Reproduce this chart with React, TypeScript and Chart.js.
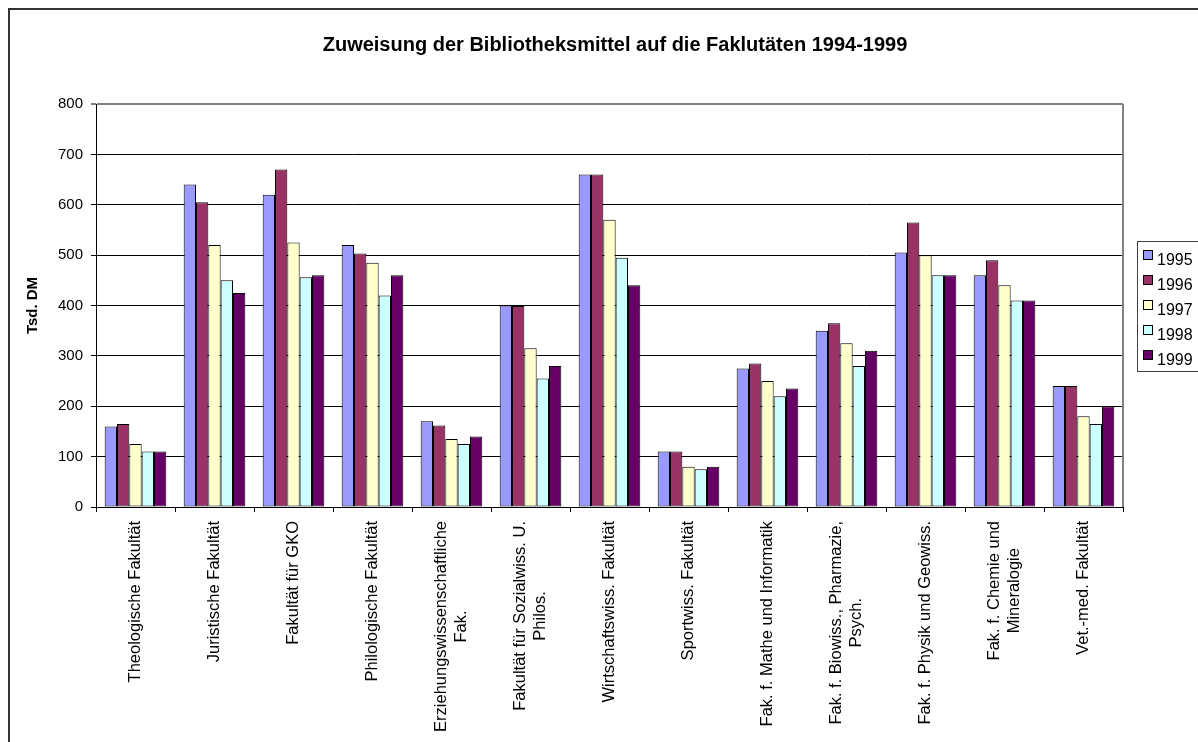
import React, { useEffect, useRef } from "react";
import { Chart, registerables } from "chart.js";

Chart.register(...registerables);

document.documentElement.style.overflow = "hidden";

const TITLE = "Zuweisung der Bibliotheksmittel auf die Faklutäten 1994-1999";
const Y_TITLE = "Tsd. DM";

const categories: (string | string[])[] = [
  "Theologische Fakultät",
  "Juristische Fakultät",
  "Fakultät für GKO",
  "Philologische Fakultät",
  ["Erziehungswissenschaftliche", "Fak."],
  ["Fakultät für Sozialwiss. U.", "Philos."],
  "Wirtschaftswiss. Fakultät",
  "Sportwiss. Fakultät",
  "Fak. f. Mathe und Informatik",
  ["Fak. f. Biowiss., Pharmazie,", "Psych."],
  "Fak. f. Physik und Geowiss.",
  ["Fak. f. Chemie und", "Mineralogie"],
  "Vet.-med. Fakultät",
];

const seriesNames = ["1995", "1996", "1997", "1998", "1999"];
const v1995 = [160, 640, 620, 520, 170, 400, 660, 110, 275, 350, 505, 460, 240];
const v1996 = [165, 605, 670, 503, 162, 399, 660, 110, 285, 365, 565, 490, 240];
const v1997 = [125, 520, 525, 485, 135, 315, 570, 80, 250, 325, 500, 440, 180];
const v1998 = [110, 450, 456, 420, 125, 255, 495, 75, 220, 280, 460, 410, 165];
const v1999 = [110, 425, 460, 460, 140, 280, 440, 80, 235, 310, 460, 410, 200];
const seriesColors = ["#9999FF", "#993366", "#FFFFCC", "#CCFFFF", "#660066"];

const yMin = 0;
const yMax = 800;
const yStep = 100;

const FONT = '"Liberation Sans", Arial, Helvetica, sans-serif';

const titlePlugin = {
  id: "customTitle",
  afterDraw(chart: any) {
    const ctx = chart.ctx;
    ctx.save();
    ctx.font = `bold 20px ${FONT}`;
    ctx.fillStyle = "#000";
    ctx.textAlign = "center";
    ctx.textBaseline = "middle";
    ctx.fillText(TITLE, 605, 35);
    ctx.restore();
  },
};

const frameBorderPlugin = {
  id: "frameBorder",
  beforeDatasetsDraw(chart: any) {
    const { ctx, chartArea } = chart;
    ctx.save();
    ctx.strokeStyle = "#808080";
    ctx.lineWidth = 2;
    ctx.beginPath();
    ctx.moveTo(chartArea.right, chartArea.top);
    ctx.lineTo(chartArea.right, chartArea.bottom);
    ctx.stroke();
    ctx.restore();
  },
};

const xLabelPlugin = {
  id: "xLabels",
  afterDraw(chart: any) {
    const ctx = chart.ctx;
    const xs = chart.scales.x;
    const labels = chart.data.labels as (string | string[])[];
    ctx.save();
    ctx.font = `16.5px ${FONT}`;
    ctx.fillStyle = "#000";
    ctx.textAlign = "center";
    ctx.textBaseline = "middle";
    const top = chart.chartArea.bottom + 14;
    labels.forEach((lab, i) => {
      const lines = Array.isArray(lab) ? lab : [lab];
      const maxW = Math.max(...lines.map((l) => ctx.measureText(l).width));
      const px = xs.getPixelForValue(i);
      ctx.save();
      ctx.translate(px, top);
      ctx.rotate(-Math.PI / 2);
      lines.forEach((l, j) => {
        ctx.fillText(l, -maxW / 2, (j - (lines.length - 1) / 2) * 20);
      });
      ctx.restore();
    });
    ctx.restore();
  },
};

const legendPlugin = {
  id: "customLegend",
  afterDraw(chart: any) {
    const ctx = chart.ctx;
    const ds = chart.data.datasets;
    const boxX = 1127;
    const boxY = 231;
    const boxH = 130;
    ctx.save();
    ctx.strokeStyle = "#404040";
    ctx.lineWidth = 1;
    ctx.strokeRect(boxX + 0.5, boxY + 0.5, 80, boxH);
    ctx.font = `16px ${FONT}`;
    ctx.textAlign = "left";
    ctx.textBaseline = "alphabetic";
    ds.forEach((d: any, i: number) => {
      const cy = 245 + i * 25;
      ctx.fillStyle = d.backgroundColor;
      ctx.fillRect(boxX + 6, cy - 5, 10, 10);
      ctx.strokeStyle = "#000";
      ctx.strokeRect(boxX + 6.5, cy - 4.5, 9, 9);
      ctx.fillStyle = "#000";
      ctx.fillText(d.label, boxX + 20, cy + 10);
    });
    ctx.restore();
  },
};

export default function App() {
  const ref = useRef<HTMLCanvasElement>(null);

  useEffect(() => {
    const allValues = [v1995, v1996, v1997, v1998, v1999];
    const chart = new Chart(ref.current!, {
      type: "bar",
      data: {
        labels: categories,
        datasets: seriesNames.map((name, i) => ({
          label: name,
          data: allValues[i],
          backgroundColor: seriesColors[i],
          borderColor: "#000",
          borderWidth: 1,
          borderSkipped: false,
          categoryPercentage: 0.78,
          barPercentage: 1,
        })),
      },
      options: {
        animation: false,
        responsive: false,
        devicePixelRatio: 1,
        layout: { padding: { top: 94, right: 75, left: 0, bottom: 0 } },
        plugins: {
          legend: { display: false },
          title: { display: false },
          tooltip: { enabled: false },
        },
        scales: {
          x: {
            type: "category",
            grid: {
              offset: true,
              drawOnChartArea: false,
              drawTicks: true,
              tickLength: 5,
              color: "#000",
            },
            border: { display: true, color: "#000", width: 1 },
            ticks: { display: false },
            afterFit: (scale: any) => {
              scale.height = 235;
            },
          },
          y: {
            min: yMin,
            max: yMax,
            ticks: {
              stepSize: yStep,
              color: "#000",
              padding: 8,
              font: { family: FONT, size: 15 },
            },
            grid: {
              color: (c: any) => (c.tick && c.tick.value === yMax ? "#808080" : "#000"),
              lineWidth: (c: any) => (c.tick && c.tick.value === yMax ? 2 : 1),
              tickLength: 5,
              drawTicks: true,
            },
            border: { display: true, color: "#000", width: 1 },
            title: {
              display: true,
              text: Y_TITLE,
              color: "#000",
              font: { family: FONT, size: 15, weight: "bold" },
              padding: { top: 14, bottom: 0 },
            },
            afterFit: (scale: any) => {
              scale.width = 86;
            },
          },
        },
      },
      plugins: [frameBorderPlugin, titlePlugin, xLabelPlugin, legendPlugin],
    } as any);
    return () => chart.destroy();
  }, []);

  return (
    <div
      style={{
        position: "fixed",
        left: 8,
        top: 8,
        width: 1190,
        height: 734,
        boxSizing: "border-box",
        borderTop: "2px solid #333",
        borderLeft: "2px solid #333",
        overflow: "hidden",
        background: "#fff",
      }}
    >
      <canvas ref={ref} width={1188} height={732} style={{ display: "block" }} />
    </div>
  );
}
